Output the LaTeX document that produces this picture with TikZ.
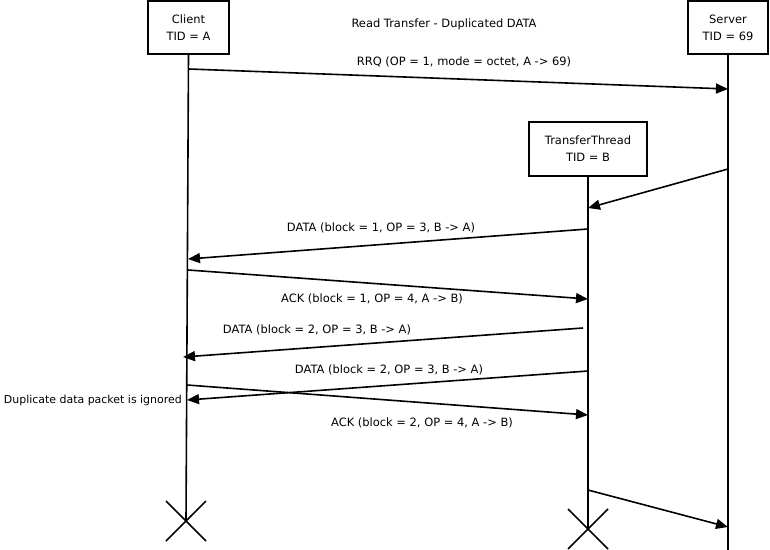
\documentclass[tikz,border=0pt]{standalone}
\usepackage{fontspec}
\setmainfont{DejaVu Sans}
\usetikzlibrary{arrows.meta}
\begin{document}
\begin{tikzpicture}[x=1bp,y=-1bp,
  lbl/.style={font=\fontsize{11.5}{13}\selectfont, inner sep=0},
  actor/.style={draw, line width=2bp, align=center, inner sep=0, font=\fontsize{11.5}{17}\selectfont},
  life/.style={line width=1.6bp},
  msg/.style={line width=1.6bp, -{Triangle[length=12bp,width=10bp]}},
  cross/.style={line width=1.6bp}]
\useasboundingbox (0,0) rectangle (770,550);
% actors
\node[actor, minimum width=81bp, minimum height=53bp] (client) at (188.5,27.5) {Client\\TID = A};
\node[actor, minimum width=80bp, minimum height=53bp] (server) at (728,27.5) {Server\\TID = 69};
\node[actor, minimum width=118bp, minimum height=54bp] (tt) at (588,149) {TransferThread\\TID = B};
\node[lbl] (title) at (444,24) {Read Transfer - Duplicated DATA};
% lifeline ends
\coordinate (cend) at (186,521);
\coordinate (tend) at (588,529);
\coordinate (send) at (728,550);
\draw[life] (client.south) -- (cend);
\draw[life] (tt.south) -- (tend);
\draw[life] (server.south) -- (send);
% crosses
\draw[cross] (166,501) -- (206,541) (206,501) -- (166,541);
\draw[cross] (568,509) -- (608,549) (608,509) -- (568,549);
% message end points
\coordinate (m1a) at (189,69);   \coordinate (m1b) at (728,89);
\coordinate (m2a) at (728,169);  \coordinate (m2b) at (588,208);
\coordinate (m3a) at (588,229);  \coordinate (m3b) at (188,259);
\coordinate (m4a) at (188,270);  \coordinate (m4b) at (588,299);
\coordinate (m5a) at (583,328);  \coordinate (m5b) at (183,357);
\coordinate (m6a) at (588,371);  \coordinate (m6b) at (187,400);
\coordinate (m7a) at (187,385);  \coordinate (m7b) at (588,415);
\coordinate (m8a) at (588,490);  \coordinate (m8b) at (728,527);
\draw[msg] (m1a) -- (m1b);
\draw[msg] (m2a) -- (m2b);
\draw[msg] (m3a) -- (m3b);
\draw[msg] (m4a) -- (m4b);
\draw[msg] (m5a) -- (m5b);
\draw[msg] (m6a) -- (m6b);
\draw[msg] (m7a) -- (m7b);
\draw[msg] (m8a) -- (m8b);
% labels
\node[lbl] (l1) at (464,62) {RRQ (OP = 1, mode = octet, A -> 69)};
\node[lbl] (l3) at (381,228) {DATA (block = 1, OP = 3, B -> A)};
\node[lbl] (l4) at (372,299) {ACK (block = 1, OP = 4, A -> B)};
\node[lbl] (l5) at (317,330) {DATA (block = 2, OP = 3, B -> A)};
\node[lbl] (l6) at (389,370) {DATA (block = 2, OP = 3, B -> A)};
\node[lbl] (l7) at (422,423) {ACK (block = 2, OP = 4, A -> B)};
\node[lbl, font=\fontsize{11}{13}\selectfont, anchor=east] (dup) at (182,400) {Duplicate data packet is ignored};
\end{tikzpicture}
\end{document}
